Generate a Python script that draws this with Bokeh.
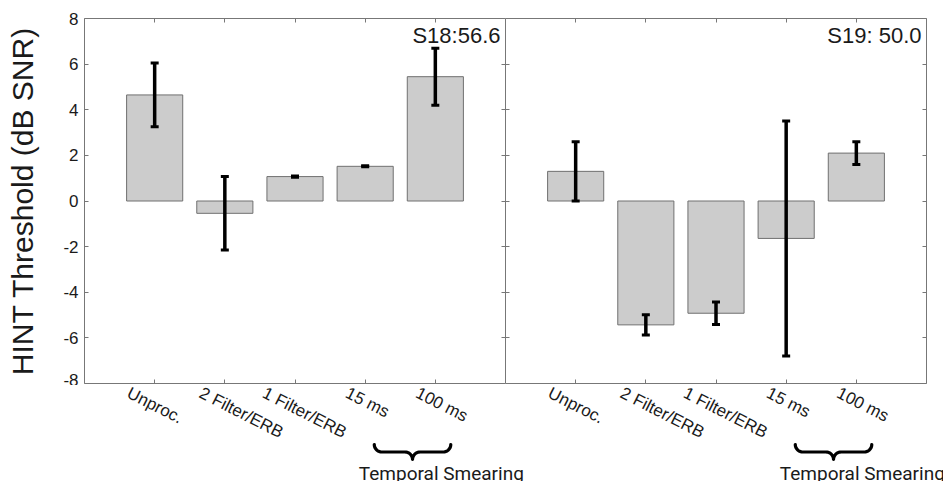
import math
import numpy as np
from bokeh.plotting import figure
from bokeh.models import (Range1d, FixedTicker, LinearAxis, Whisker, TeeHead,
                          ColumnDataSource, Label)
from bokeh.core.properties import value
from bokeh.layouts import row, column
from bokeh.embed import file_html
from bokeh.resources import INLINE

# ---------------- data ----------------
categories = ["Unproc.", "2 Filter/ERB", "1 Filter/ERB", "15 ms", "100 ms"]
s18_mean = [4.65, -0.54, 1.07, 1.52, 5.45]
s18_err = [1.40, 1.61, 0.03, 0.02, 1.25]
s19_mean = [1.30, -5.43, -4.92, -1.64, 2.10]
s19_err = [1.30, 0.44, 0.49, 5.15, 0.50]
panel_titles = ["S18:56.6", "S19: 50.0"]
y_ticks = [-8, -6, -4, -2, 0, 2, 4, 6, 8]
y_tick_labels = ["-8", "-6", "-4", "-2", "0", "2", "4", "6", "8"]
y_label = "HINT Threshold (dB SNR)"
group_label = "Temporal Smearing"
group_members = ["15 ms", "100 ms"]

# ---------------- layout / style ----------------
W_TOTAL, H_TOTAL = 943, 481
FRAME_W, FRAME_H = 421, 365
TOP, LEFT, RIGHT = 18, 84, 17
GAP = 2                                  # border under the panels
BOT_H = H_TOTAL - TOP - FRAME_H - GAP    # height of the label strip
X_MIN, X_MAX, Y_MIN, Y_MAX = 0, 6, -8, 8
PX_X = FRAME_W / (X_MAX - X_MIN)
PX_Y = FRAME_H / (Y_MAX - Y_MIN)
LABEL_DX_PX = [-22, -20, -27, -14, -14]  # anchor shift of each tick label
LABEL_DY_PX = 0
LABEL_ANGLE = -math.radians(27)
GROUP_LABEL_Y = 90
AX = "#777777"
TXT = "#1a1a1a"
FONT = "Liberation Sans"


def hidden_axis(ticks, line=True):
    return LinearAxis(ticker=FixedTicker(ticks=ticks, minor_ticks=[]),
                      major_tick_in=4, major_tick_out=0, major_tick_line_color=AX,
                      axis_line_color=AX if line else None,
                      major_label_text_color=None, major_label_standoff=0)


def make_panel(means, errs, title, first):
    xs = list(range(1, len(categories) + 1))
    p = figure(frame_width=FRAME_W, frame_height=FRAME_H,
               x_range=Range1d(X_MIN, X_MAX), y_range=Range1d(Y_MIN, Y_MAX),
               output_backend="svg", toolbar_location=None, title_location=None,
               x_axis_location=None, y_axis_location=None,
               min_border_left=LEFT if first else 0,
               min_border_right=0 if first else RIGHT,
               min_border_top=TOP, min_border_bottom=GAP,
               outline_line_color=None,
               background_fill_color="white", border_fill_color="white")
    p.xgrid.visible = False
    p.ygrid.visible = False

    p.add_layout(hidden_axis(xs), "below")
    p.add_layout(hidden_axis(xs), "above")
    if first:
        ly = LinearAxis(ticker=FixedTicker(ticks=y_ticks, minor_ticks=[]),
                        major_label_overrides=dict(zip(y_ticks, y_tick_labels)),
                        major_tick_in=4, major_tick_out=0, major_tick_line_color=AX,
                        axis_line_color=AX, major_label_standoff=6,
                        major_label_text_font=FONT, major_label_text_font_size="17px",
                        major_label_text_color=TXT,
                        axis_label=y_label, axis_label_text_font=FONT,
                        axis_label_text_font_size="30px",
                        axis_label_text_font_style="normal",
                        axis_label_text_color=TXT, axis_label_standoff=21)
        p.add_layout(ly, "left")
        p.add_layout(hidden_axis(y_ticks, line=False), "right")
    else:
        p.add_layout(hidden_axis(y_ticks), "left")
        p.add_layout(hidden_axis(y_ticks), "right")

    # bars
    p.vbar(x=xs, top=means, bottom=0, width=0.8,
           fill_color="#cccccc", line_color="#707070", line_width=1)

    # error bars
    src = ColumnDataSource(dict(x=xs,
                                lower=[m - e for m, e in zip(means, errs)],
                                upper=[m + e for m, e in zip(means, errs)]))
    w = Whisker(source=src, base="x", lower="lower", upper="upper",
                line_color="black", line_width=3.5,
                upper_head=TeeHead(size=8, line_width=3, line_color="black"),
                lower_head=TeeHead(size=8, line_width=3, line_color="black"),
                level="overlay")
    p.add_layout(w)

    # panel title
    p.add_layout(Label(x=X_MAX, y=Y_MAX, x_offset=-5, y_offset=-4, text=title,
                       text_align="right", text_baseline="top",
                       text_font=FONT, text_font_size="22px", text_color=TXT))
    return p


p1 = make_panel(s18_mean, s18_err, panel_titles[0], True)
p2 = make_panel(s19_mean, s19_err, panel_titles[1], False)

# -------- label strip under both panels (tick labels, brace, group label) --------
span = X_MAX - X_MIN
strip = figure(frame_width=W_TOTAL, frame_height=BOT_H,
               x_range=Range1d(X_MIN - LEFT / PX_X, X_MIN + 2 * span + RIGHT / PX_X),
               y_range=Range1d(GAP + BOT_H, GAP),   # y = pixels below the panels' x axis
               output_backend="svg", toolbar_location=None, title_location=None,
               x_axis_location=None, y_axis_location=None,
               min_border_left=0, min_border_right=0, min_border_top=0, min_border_bottom=0,
               outline_line_color=None,
               background_fill_color="white", border_fill_color="white")
strip.xgrid.visible = False
strip.ygrid.visible = False

n = len(categories)
lab_src = ColumnDataSource(dict(
    x=[k * span + i + 1 for k in range(2) for i in range(n)],
    text=categories * 2,
    dx=LABEL_DX_PX * 2,
))
strip.text(x="x", y=LABEL_DY_PX, text="text", x_offset="dx", source=lab_src,
           angle=LABEL_ANGLE, text_align="left", text_baseline="top",
           text_font=value(FONT), text_font_size=value("17px"), text_color=TXT)

gi = [categories.index(g) + 1 for g in group_members]


def brace(x0, x1, top_px, r=7.5, m=12):
    W = (x1 - x0) * PX_X
    t = np.linspace(0, np.pi / 2, m)
    left = [(r - r * np.cos(a), r * np.sin(a)) for a in t]
    left += [(W / 2 - r + r * np.sin(a), 2 * r - r * np.cos(a)) for a in t]
    right = [(W - px, py) for px, py in reversed(left)]
    pts = left + right
    return [x0 + px / PX_X for px, _ in pts], [top_px + py for _, py in pts]


for k in range(2):
    off = k * span
    bx, by = brace(off + gi[0] + 0.13, off + gi[1] + 0.22, 61)
    strip.line(bx, by, line_color="black", line_width=3.2,
               line_join="round", line_cap="round")
    strip.text(x=[off + gi[0] - 0.09], y=[GROUP_LABEL_Y], text=[group_label],
               text_align="left", text_baseline="alphabetic",
               text_font=value("Roboto"), text_font_size=value("19px"),
               text_color=TXT)

layout = column(row(p1, p2, spacing=0), strip, spacing=0)

open("out.html", "w").write(file_html(layout, INLINE))
